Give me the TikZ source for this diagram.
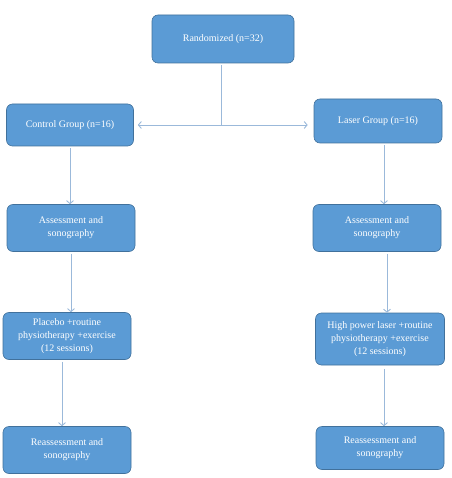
\documentclass[tikz,border=0pt]{standalone}
\usepackage{fontspec}
\setmainfont{Liberation Serif}
\usetikzlibrary{arrows.meta, positioning}
\definecolor{boxblue}{RGB}{91,155,213}
\definecolor{boxedge}{RGB}{65,113,156}
\definecolor{linkblue}{RGB}{155,185,218}

\begin{document}
\begin{tikzpicture}[x=1pt, y=-1pt,
    stepbox/.style={draw=boxedge, line width=0.6pt, fill=boxblue, rounded corners=6pt,
      text=white, align=center, inner sep=2pt, minimum width=128pt, minimum height=47pt,
      font=\fontsize{10}{13}\selectfont},
    link/.style={linkblue, line width=0.9pt, -{Straight Barb[length=3pt,width=7pt]}}]
  \useasboundingbox (0,0) rectangle (451,478);
  % allocation
  \node[stepbox, minimum width=142pt, minimum height=48pt] (rand) at (223,39) {Randomized (n=32)};
  \node[stepbox, minimum width=127pt, minimum height=42pt] (ctrl) at (70,125) {Control Group (n=16)};
  \node[stepbox, minimum width=128pt, minimum height=44pt] (laser) at (378,121) {Laser Group (n=16)};
  % control arm
  \node[stepbox] (ctrlassess) at (71,228) {Assessment and\\sonography};
  \node[stepbox] (placebo) at (67,336) {Placebo +routine\\physiotherapy +exercise\\(12 sessions)};
  \node[stepbox] (ctrlreassess) at (67,450) {Reassessment and\\sonography};
  % laser arm
  \node[stepbox] (laserassess) at (377,228) {Assessment and\\sonography};
  \node[stepbox, minimum width=129pt, minimum height=52pt] (hilt) at (380,339) {High power laser +routine\\physiotherapy +exercise\\(12 sessions)};
  \node[stepbox, minimum height=43pt] (laserreassess) at (380,448) {Reassessment and\\sonography};

  \coordinate (split) at (221,125);
  \draw[linkblue, line width=0.9pt] (rand.south -| split) ++(0,2) -- (split);
  \draw[link] (split) -- ([xshift=4pt]ctrl.east |- split);
  \draw[link] (split) -- ([xshift=-6pt]laser.west |- split);

  \draw[link, shorten <=2pt] (ctrl.south) -- (ctrl.south |- ctrlassess.north);
  \draw[link, shorten <=2pt] (ctrlassess.south) -- (ctrlassess.south |- placebo.north);
  \draw[link, shorten <=2pt] ([xshift=-5pt]placebo.south) -- ([xshift=-5pt]placebo.south |- ctrlreassess.north);
  \draw[link, shorten <=2pt] ([xshift=6pt]laser.south) -- ([xshift=6pt]laser.south |- laserassess.north);
  \draw[link, shorten <=2pt] ([xshift=10pt]laserassess.south) -- ([xshift=10pt]laserassess.south |- hilt.north);
  \draw[link, shorten <=4pt] ([xshift=4pt]hilt.south) -- ([xshift=4pt]hilt.south |- laserreassess.north);
\end{tikzpicture}
\end{document}
